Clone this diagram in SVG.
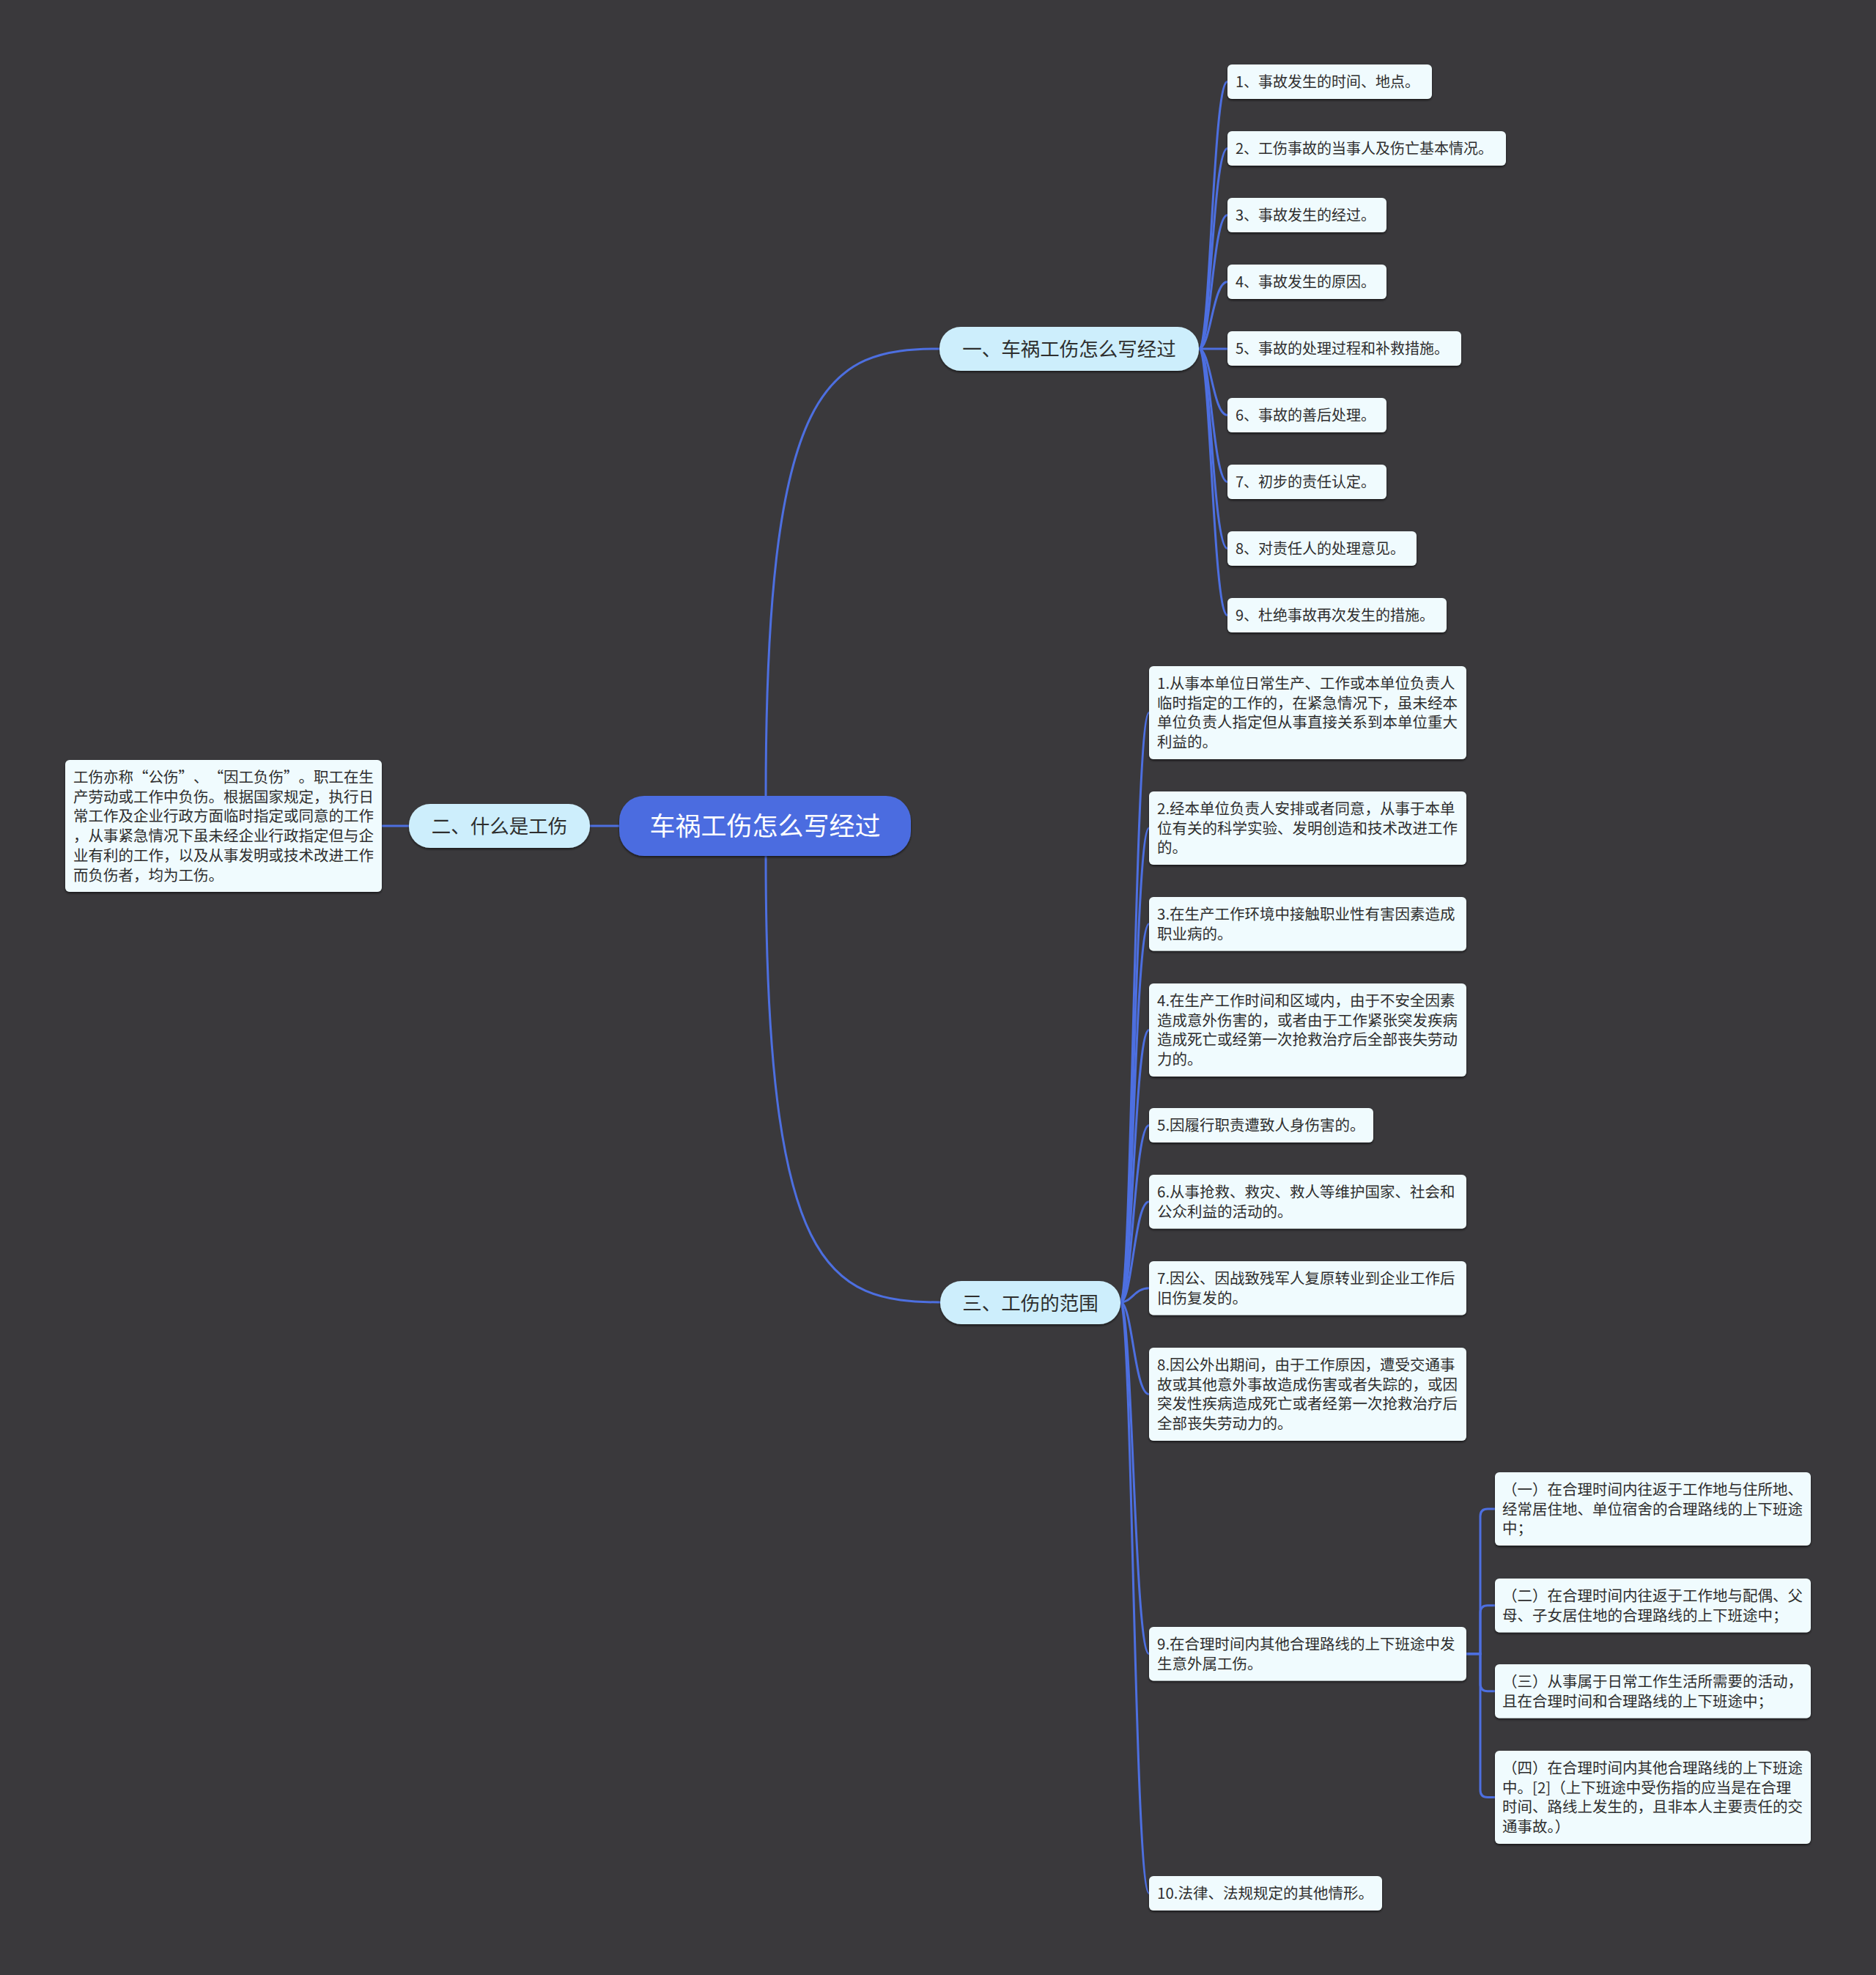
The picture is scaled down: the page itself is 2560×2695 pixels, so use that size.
<svg xmlns="http://www.w3.org/2000/svg" width="2560" height="2695" viewBox="0 0 2560 2695">
<defs>
<filter id="sh" x="-5%" y="-10%" width="110%" height="130%">
<feDropShadow dx="0" dy="2" stdDeviation="1.5" flood-color="#000" flood-opacity="0.55"/>
</filter>
<style>
text{font-family:"Noto Sans CJK SC","Noto Sans",sans-serif;fill:#2e2e2e}
.conn path{fill:none;stroke:#4d6fe0;stroke-width:3}
.root rect{fill:#4b6ce0}
.root text{fill:#ffffff;font-size:35px}
.l1 rect{fill:#cdeefc}
.l1 text{font-size:26.5px}
.leaf rect{fill:#f0fbfe}
.leaf text{font-size:20.5px}
.lf text{font-size:20px}
</style>
</defs>
<rect width="2560" height="2695" fill="#3a393c"/>
<g class="conn">
<path d="M1045,1086 C1045,520 1130,476 1282,476"/>
<path d="M1045,1168 C1045,1734 1130,1777 1283,1777"/>
<path d="M846,1127 H805"/>
<path d="M558,1127 H521"/>
<path d="M1636,476 C1652,476 1655,111.5 1675,111.5"/>
<path d="M1636,476 C1652,476 1655,202.5 1675,202.5"/>
<path d="M1636,476 C1652,476 1655,293.5 1675,293.5"/>
<path d="M1636,476 C1652,476 1655,384.5 1675,384.5"/>
<path d="M1636,476 H1675"/>
<path d="M1636,476 C1652,476 1655,566.5 1675,566.5"/>
<path d="M1636,476 C1652,476 1655,657.5 1675,657.5"/>
<path d="M1636,476 C1652,476 1655,748.5 1675,748.5"/>
<path d="M1636,476 C1652,476 1655,839.5 1675,839.5"/>
<path d="M1529,1777 C1545,1777 1548,972.4 1568,972.4"/>
<path d="M1529,1777 C1545,1777 1548,1130 1568,1130"/>
<path d="M1529,1777 C1545,1777 1548,1260.7 1568,1260.7"/>
<path d="M1529,1777 C1545,1777 1548,1405.4 1568,1405.4"/>
<path d="M1529,1777 C1545,1777 1548,1535.4 1568,1535.4"/>
<path d="M1529,1777 C1545,1777 1548,1639.7 1568,1639.7"/>
<path d="M1529,1777 C1545,1777 1548,1757.7 1568,1757.7"/>
<path d="M1529,1777 C1545,1777 1548,1902.4 1568,1902.4"/>
<path d="M1529,1777 C1545,1777 1548,2256.7 1568,2256.7"/>
<path d="M1529,1777 C1545,1777 1548,2583.4 1568,2583.4"/>
<path d="M2001,2256.7 H2020 V2069 Q2020,2059 2030,2059 H2040"/>
<path d="M2001,2256.7 H2020 V2200.7 Q2020,2190.7 2030,2190.7 H2040"/>
<path d="M2001,2256.7 H2020 V2297.7 Q2020,2307.7 2030,2307.7 H2040"/>
<path d="M2001,2256.7 H2020 V2442.4 Q2020,2452.4 2030,2452.4 H2040"/>
</g>
<g id="root" class="root"><rect x="845" y="1086" width="398" height="82" rx="34" filter="url(#sh)"/><text x="1044" y="1140" text-anchor="middle">车祸工伤怎么写经过</text></g>
<g id="n1" class="l1"><rect x="1282" y="446" width="354" height="60" rx="29" filter="url(#sh)"/><text x="1459" y="486" text-anchor="middle">一、车祸工伤怎么写经过</text></g>
<g id="n2" class="l1"><rect x="558" y="1097" width="247" height="60" rx="29" filter="url(#sh)"/><text x="681.5" y="1137" text-anchor="middle">二、什么是工伤</text></g>
<g id="n3" class="l1"><rect x="1283" y="1748" width="246" height="59" rx="29" filter="url(#sh)"/><text x="1406" y="1787.5" text-anchor="middle">三、工伤的范围</text></g>
<g id="n2a" class="leaf"><rect x="89" y="1037" width="432" height="180" rx="6" filter="url(#sh)"/><text><tspan x="100" y="1068">工伤亦称</tspan><tspan x="182" y="1068">“</tspan><tspan x="202.5" y="1068">公伤</tspan><tspan x="243.5" y="1068">”</tspan><tspan x="264" y="1068">、</tspan><tspan x="284.5" y="1068">“</tspan><tspan x="305" y="1068">因工负伤</tspan><tspan x="387" y="1068">”</tspan><tspan x="407.5" y="1068">。职工在生</tspan><tspan x="100" y="1094.7">产劳动或工作中负伤。根据国家规定，执行日</tspan><tspan x="100" y="1121.4">常工作及企业行政方面临时指定或同意的工作</tspan><tspan x="100" y="1148.1">，从事紧急情况下虽未经企业行政指定但与企</tspan><tspan x="100" y="1174.8">业有利的工作，以及从事发明或技术改进工作</tspan><tspan x="100" y="1201.5">而负伤者，均为工伤。</tspan></text></g>
<g id="b1" class="leaf lf"><rect x="1675" y="88" width="279" height="47" rx="6" filter="url(#sh)"/><text x="1686" y="119">1、事故发生的时间、地点。</text></g>
<g id="b2" class="leaf lf"><rect x="1675" y="179" width="380" height="47" rx="6" filter="url(#sh)"/><text x="1686" y="210">2、工伤事故的当事人及伤亡基本情况。</text></g>
<g id="b3" class="leaf lf"><rect x="1675" y="270" width="217" height="47" rx="6" filter="url(#sh)"/><text x="1686" y="301">3、事故发生的经过。</text></g>
<g id="b4" class="leaf lf"><rect x="1675" y="361" width="217" height="47" rx="6" filter="url(#sh)"/><text x="1686" y="392">4、事故发生的原因。</text></g>
<g id="b5" class="leaf lf"><rect x="1675" y="452" width="319" height="47" rx="6" filter="url(#sh)"/><text x="1686" y="483">5、事故的处理过程和补救措施。</text></g>
<g id="b6" class="leaf lf"><rect x="1675" y="543" width="217" height="47" rx="6" filter="url(#sh)"/><text x="1686" y="574">6、事故的善后处理。</text></g>
<g id="b7" class="leaf lf"><rect x="1675" y="634" width="217" height="47" rx="6" filter="url(#sh)"/><text x="1686" y="665">7、初步的责任认定。</text></g>
<g id="b8" class="leaf lf"><rect x="1675" y="725" width="258" height="47" rx="6" filter="url(#sh)"/><text x="1686" y="756">8、对责任人的处理意见。</text></g>
<g id="b9" class="leaf lf"><rect x="1675" y="816" width="299" height="47" rx="6" filter="url(#sh)"/><text x="1686" y="847">9、杜绝事故再次发生的措施。</text></g>
<g id="c1" class="leaf"><rect x="1568" y="909" width="433" height="127" rx="6" filter="url(#sh)"/><text><tspan x="1579" y="940">1.从事本单位日常生产、工作或本单位负责人</tspan><tspan x="1579" dy="26.7">临时指定的工作的，在紧急情况下，虽未经本</tspan><tspan x="1579" dy="26.7">单位负责人指定但从事直接关系到本单位重大</tspan><tspan x="1579" dy="26.7">利益的。</tspan></text></g>
<g id="c2" class="leaf"><rect x="1568" y="1080" width="433" height="100" rx="6" filter="url(#sh)"/><text><tspan x="1579" y="1111">2.经本单位负责人安排或者同意，从事于本单</tspan><tspan x="1579" dy="26.7">位有关的科学实验、发明创造和技术改进工作</tspan><tspan x="1579" dy="26.7">的。</tspan></text></g>
<g id="c3" class="leaf"><rect x="1568" y="1224" width="433" height="73.4" rx="6" filter="url(#sh)"/><text><tspan x="1579" y="1255">3.在生产工作环境中接触职业性有害因素造成</tspan><tspan x="1579" dy="26.7">职业病的。</tspan></text></g>
<g id="c4" class="leaf"><rect x="1568" y="1342" width="433" height="127" rx="6" filter="url(#sh)"/><text><tspan x="1579" y="1373">4.在生产工作时间和区域内，由于不安全因素</tspan><tspan x="1579" dy="26.7">造成意外伤害的，或者由于工作紧张突发疾病</tspan><tspan x="1579" dy="26.7">造成死亡或经第一次抢救治疗后全部丧失劳动</tspan><tspan x="1579" dy="26.7">力的。</tspan></text></g>
<g id="c5" class="leaf"><rect x="1568" y="1512" width="306" height="47" rx="6" filter="url(#sh)"/><text x="1579" y="1543">5.因履行职责遭致人身伤害的。</text></g>
<g id="c6" class="leaf"><rect x="1568" y="1603" width="433" height="73.4" rx="6" filter="url(#sh)"/><text><tspan x="1579" y="1634">6.从事抢救、救灾、救人等维护国家、社会和</tspan><tspan x="1579" dy="26.7">公众利益的活动的。</tspan></text></g>
<g id="c7" class="leaf"><rect x="1568" y="1721" width="433" height="73.4" rx="6" filter="url(#sh)"/><text><tspan x="1579" y="1752">7.因公、因战致残军人复原转业到企业工作后</tspan><tspan x="1579" dy="26.7">旧伤复发的。</tspan></text></g>
<g id="c8" class="leaf"><rect x="1568" y="1839" width="433" height="127" rx="6" filter="url(#sh)"/><text><tspan x="1579" y="1870">8.因公外出期间，由于工作原因，遭受交通事</tspan><tspan x="1579" dy="26.7">故或其他意外事故造成伤害或者失踪的，或因</tspan><tspan x="1579" dy="26.7">突发性疾病造成死亡或者经第一次抢救治疗后</tspan><tspan x="1579" dy="26.7">全部丧失劳动力的。</tspan></text></g>
<g id="c9" class="leaf"><rect x="1568" y="2220" width="433" height="73.4" rx="6" filter="url(#sh)"/><text><tspan x="1579" y="2251">9.在合理时间内其他合理路线的上下班途中发</tspan><tspan x="1579" dy="26.7">生意外属工伤。</tspan></text></g>
<g id="c10" class="leaf"><rect x="1568" y="2560" width="318" height="47" rx="6" filter="url(#sh)"/><text x="1579" y="2591">10.法律、法规规定的其他情形。</text></g>
<g id="d1" class="leaf"><rect x="2040" y="2009" width="431" height="100" rx="6" filter="url(#sh)"/><text><tspan x="2050" y="2040">（一）在合理时间内往返于工作地与住所地、</tspan><tspan x="2050" dy="26.7">经常居住地、单位宿舍的合理路线的上下班途</tspan><tspan x="2050" dy="26.7">中；</tspan></text></g>
<g id="d2" class="leaf"><rect x="2040" y="2154" width="431" height="73.4" rx="6" filter="url(#sh)"/><text><tspan x="2050" y="2185">（二）在合理时间内往返于工作地与配偶、父</tspan><tspan x="2050" dy="26.7">母、子女居住地的合理路线的上下班途中；</tspan></text></g>
<g id="d3" class="leaf"><rect x="2040" y="2271" width="431" height="73.4" rx="6" filter="url(#sh)"/><text><tspan x="2050" y="2302">（三）从事属于日常工作生活所需要的活动，</tspan><tspan x="2050" dy="26.7">且在合理时间和合理路线的上下班途中；</tspan></text></g>
<g id="d4" class="leaf"><rect x="2040" y="2389" width="431" height="127" rx="6" filter="url(#sh)"/><text><tspan x="2050" y="2420">（四）在合理时间内其他合理路线的上下班途</tspan><tspan x="2050" dy="26.7">中。[2]（上下班途中受伤指的应当是在合理</tspan><tspan x="2050" dy="26.7">时间、路线上发生的，且非本人主要责任的交</tspan><tspan x="2050" dy="26.7">通事故。）</tspan></text></g>
</svg>
